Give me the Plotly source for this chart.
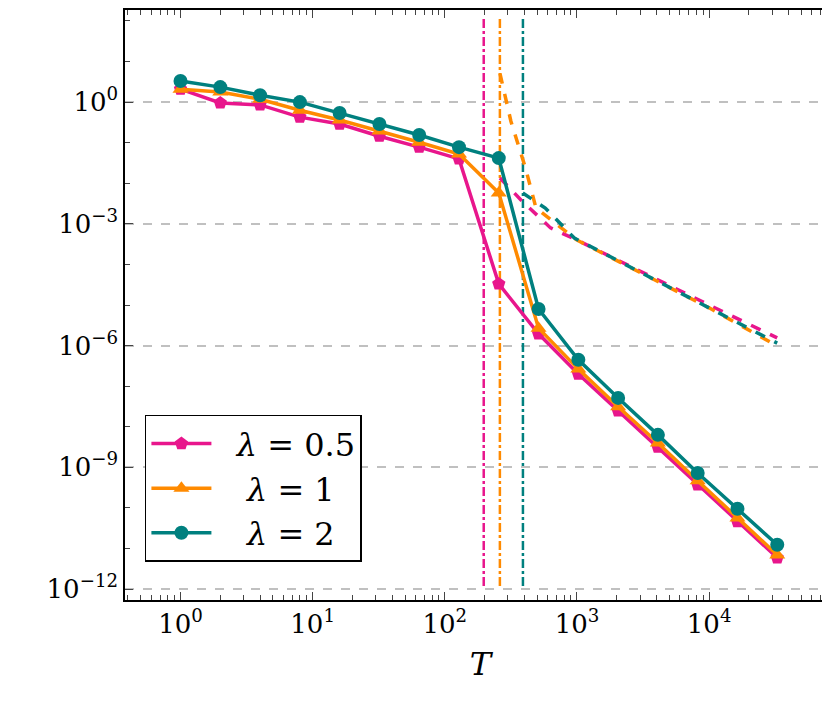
import numpy as np
import plotly.graph_objects as go

# ===========[ Data ]=========== #
T = [2 ** k for k in range(16)]
log_pink = [0.32, -0.02, -0.07, -0.37, -0.54, -0.84, -1.11, -1.40, -4.48, -5.71, -6.70, -7.61, -8.50, -9.43, -10.34, -11.23]
log_orange = [0.32, 0.25, 0.07, -0.20, -0.44, -0.71, -0.99, -1.28, -2.24, -5.57, -6.58, -7.51, -8.40, -9.33, -10.25, -11.16]
log_teal = [0.52, 0.37, 0.17, 0.00, -0.27, -0.54, -0.81, -1.11, -1.38, -5.10, -6.35, -7.29, -8.20, -9.14, -10.02, -10.91]

# dashed bound curves (log10 T, log10 y)
bx_pink = [2.417, 2.576, 2.80, 3.0, 4.0, 4.515]
by_pink = [-1.87, -2.41, -3.10, -3.40, -5.00, -5.81]
bx_orange = [2.417, 2.50, 2.61, 2.69, 3.0, 4.0, 4.515]
by_orange = [0.71, -0.47, -1.62, -2.61, -3.40, -5.07, -6.01]
bx_teal = [2.59, 2.76, 2.98, 4.0, 4.515]
by_teal = [-2.24, -2.61, -3.35, -5.07, -5.94]

# vertical dash-dot thresholds
vlines = {"pink": 197, "orange": 261, "teal": 390}

pink = "#e8168c"
orange = "#ff8a00"
teal = "#00807f"
colors = {"pink": pink, "orange": orange, "teal": teal}

fig = go.Figure()

for name, x in vlines.items():
	fig.add_trace(go.Scatter(x=[x, x], y=[10 ** 2.05, 10 ** -12], mode="lines", showlegend=False,
		line={"color": colors[name], "width": 2.5, "dash": "dashdot"}))

for bx, by, c in [(bx_pink, by_pink, pink), (bx_orange, by_orange, orange), (bx_teal, by_teal, teal)]:
	fig.add_trace(go.Scatter(x=10 ** np.array(bx), y=10 ** np.array(by), mode="lines", showlegend=False,
		line={"color": c, "width": 3.5, "dash": "dash"}))

for ly, c, sym, lab in [(log_pink, pink, "pentagon", "  <i>λ</i> = 0.5"),
		(log_orange, orange, "triangle-up", "   <i>λ</i> = 1"),
		(log_teal, teal, "circle", "   <i>λ</i> = 2")]:
	fig.add_trace(go.Scatter(x=T, y=10 ** np.array(ly), mode="lines+markers", name=lab,
		line={"color": c, "width": 3.5}, marker={"symbol": sym, "size": 14, "color": c}))

font = "DejaVu Serif"
fig.update_layout(
	width=830, height=704, margin={"l": 117, "r": 2, "t": 2, "b": 112},
	plot_bgcolor="white", paper_bgcolor="white",
	font={"family": font, "size": 26, "color": "black"},
	legend={"x": 0.028, "y": 0.314, "xanchor": "left", "yanchor": "top", "bgcolor": "white",
		"bordercolor": "black", "borderwidth": 1.5, "font": {"size": 32}, "itemwidth": 60},
)

xt = [1, 10, 100, 1000, 10000]
fig.update_xaxes(type="log", range=[-0.42, 4.96], tickvals=xt, automargin=False,
	ticktext=[f"10<sup>{i}</sup>" for i in range(5)], ticks="inside", ticklen=8,
	showgrid=False, showline=True, linecolor="black", linewidth=1.5, mirror="ticks",
	title_text="<i>T</i>", title_font={"size": 32}, zeroline=False,
	minor={"tickvals": [m * 10 ** d for d in range(-1, 5) for m in range(2, 10)], "ticks": "inside", "ticklen": 5, "showgrid": False})
yt = [1, 1e-3, 1e-6, 1e-9, 1e-12]
fig.update_yaxes(type="log", range=[-12.27, 2.27], tickvals=yt, automargin=False,
	ticktext=["10<sup>0</sup>", "10<sup>−3</sup>", "10<sup>−6</sup>", "10<sup>−9</sup>", "10<sup>−12</sup>"],
	ticks="inside", ticklen=8, showgrid=True, gridcolor="#c0c0c0", griddash="dash", gridwidth=1.5,
	showline=True, linecolor="black", linewidth=1.5, mirror="ticks", zeroline=False,
	minor={"tickvals": [10.0 ** d for d in range(-12, 3)], "ticks": "inside", "ticklen": 5, "showgrid": False})

fig.write_html("out.html")
